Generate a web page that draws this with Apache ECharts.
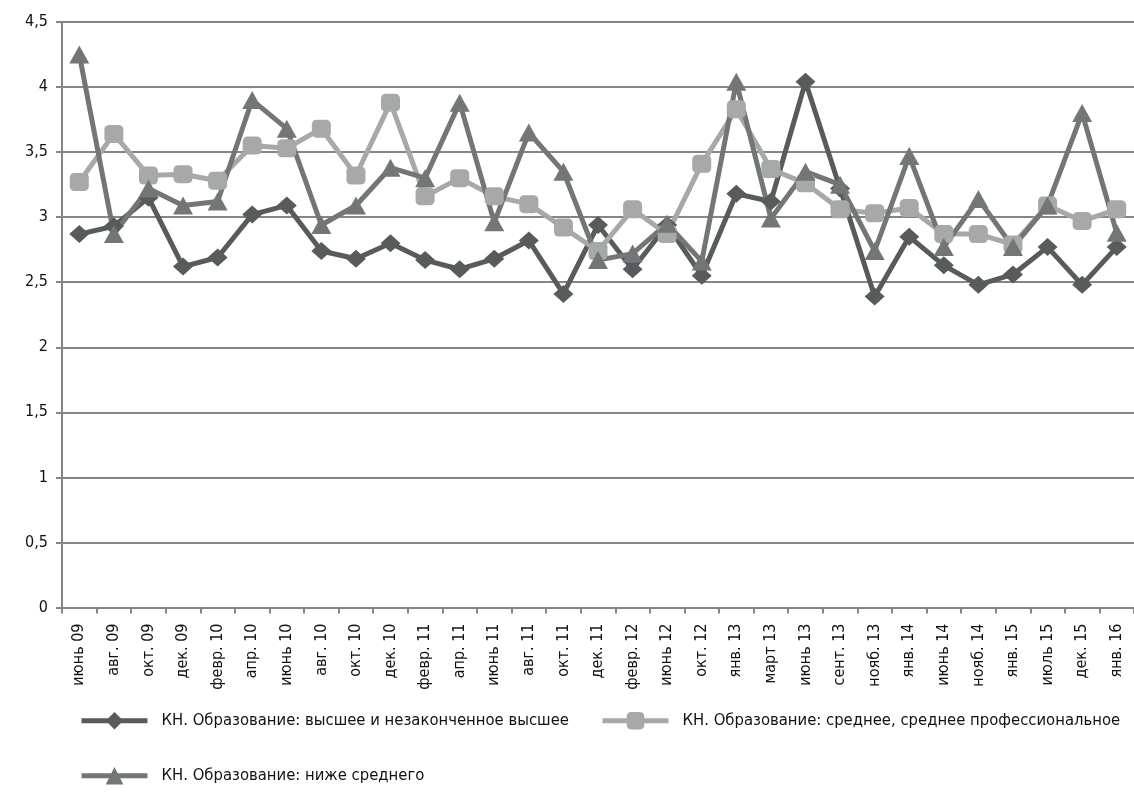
<!DOCTYPE html>
<html>
<head>
<meta charset="utf-8">
<script src="https://cdn.jsdelivr.net/npm/echarts@6/dist/echarts.min.js"></script>
<style>
  html, body { margin: 0; padding: 0; background: #fff; }
  #chart { width: 1134px; height: 807px; }
</style>
</head>
<body>
<div id="chart"></div>
<script>
// подписи по оси X
var months = [
  "июнь 09", "авг. 09", "окт. 09", "дек. 09", "февр. 10", "апр. 10", "июнь 10", "авг. 10",
  "окт. 10", "дек. 10", "февр. 11", "апр. 11", "июнь 11", "авг. 11", "окт. 11", "дек. 11",
  "февр. 12", "июнь 12", "окт. 12", "янв. 13", "март 13", "июнь 13", "сент. 13", "нояб. 13",
  "янв. 14", "июнь 14", "нояб. 14", "янв. 15", "июль 15", "дек. 15", "янв. 16"
];

var nameHigher = "КН. Образование: высшее и незаконченное высшее";
var nameMiddle = "КН. Образование: среднее, среднее профессиональное";
var nameLower = "КН. Образование: ниже среднего";

var higher = [
  2.87, 2.93, 3.15, 2.62, 2.69, 3.02, 3.09, 2.74, 2.68, 2.80, 2.67, 2.60, 2.68, 2.82, 2.41, 2.94,
  2.60, 2.94, 2.55, 3.18, 3.12, 4.04, 3.22, 2.39, 2.85, 2.63, 2.48, 2.56, 2.77, 2.48, 2.77
];
var middle = [
  3.27, 3.64, 3.32, 3.33, 3.28, 3.55, 3.53, 3.68, 3.32, 3.88, 3.16, 3.30, 3.16, 3.10, 2.92, 2.74,
  3.06, 2.87, 3.41, 3.83, 3.37, 3.26, 3.06, 3.03, 3.07, 2.87, 2.87, 2.79, 3.09, 2.97, 3.06
];
var lower = [
  4.25, 2.87, 3.22, 3.09, 3.12, 3.90, 3.68, 2.94, 3.09, 3.38, 3.30, 3.88, 2.96, 3.65, 3.35, 2.67,
  2.72, 2.95, 2.66, 4.04, 2.99, 3.35, 3.25, 2.74, 3.47, 2.77, 3.14, 2.77, 3.09, 3.80, 2.88
];

var font = "'DejaVu Sans Condensed', 'Liberation Sans Narrow', sans-serif";
var cDark = "#575b5c", cLight = "#a7a9a9", cMid = "#727677", cAxis = "#858585";

var chart = echarts.init(document.getElementById("chart"));

function legendAt(name, left, top) {
  return {
    data: [name], left: left, top: top,
    itemWidth: 66, itemHeight: 22,
    lineStyle: { width: 5 },
    textStyle: { fontFamily: font, fontSize: 16.5, color: "#111", padding: [0, 0, 0, 9] }
  };
}

var option = {
  animation: false,
  backgroundColor: "#fff",
  textStyle: { fontFamily: font },
  grid: { left: 62, top: 22, width: 1082, height: 585.5, containLabel: false },
  legend: [
    legendAt(nameHigher, 74, 707),
    legendAt(nameMiddle, 595, 707),
    legendAt(nameLower, 74, 762)
  ],
  xAxis: {
    type: "category",
    data: months,
    boundaryGap: true,
    axisLine: { lineStyle: { color: cAxis, width: 2 } },
    axisTick: { show: true, length: 6, lineStyle: { color: cAxis, width: 2 } },
    axisLabel: { rotate: 90, interval: 0, margin: 16, fontFamily: font, fontSize: 16, color: "#111" }
  },
  yAxis: {
    type: "value",
    min: 0, max: 4.5, interval: 0.5,
    axisLine: { show: true, lineStyle: { color: cAxis, width: 2 } },
    axisTick: { show: true, length: 6, lineStyle: { color: cAxis, width: 2 } },
    splitLine: { lineStyle: { color: cAxis, width: 2 } },
    axisLabel: {
      margin: 14, fontFamily: font, fontSize: 16, color: "#111",
      formatter: function (v) { return String(v).replace(".", ","); }
    }
  },
  series: [
    {
      name: nameHigher, type: "line", data: higher,
      symbol: "diamond", symbolSize: [20, 18], showAllSymbol: true,
      lineStyle: { color: cDark, width: 5 }, itemStyle: { color: cDark }
    },
    {
      name: nameMiddle, type: "line", data: middle,
      symbol: "roundRect", symbolSize: [19, 18], showAllSymbol: true,
      lineStyle: { color: cLight, width: 5 }, itemStyle: { color: cLight }
    },
    {
      name: nameLower, type: "line", data: lower,
      symbol: "triangle", symbolSize: [20, 18], showAllSymbol: true,
      lineStyle: { color: cMid, width: 5 }, itemStyle: { color: cMid }
    }
  ]
};

chart.setOption(option);
</script>
</body>
</html>
